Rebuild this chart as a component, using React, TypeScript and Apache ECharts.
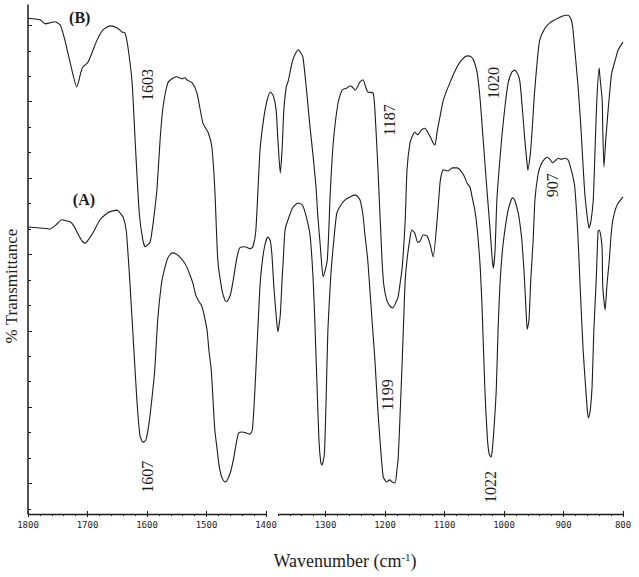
import React, { useEffect, useRef } from "react";
import * as echarts from "echarts";

// Spectrum (B) – upper trace: wavenumber (cm-1) and % transmittance
const waveB = [1800,1780,1771,1763,1755,1746,1738,1729,1718,1709,1699,1684,1674,1662,1650,1642,1637,1632,1625,1620,1613,1607,1603,1595,1592,1587,1583,1578,1573,1565,1558,1550,1541,1536,1533,1524,1516,1506,1497,1491,1486,1481,1474,1469,1466,1460,1455,1449,1444,1435,1427,1422,1417,1410,1403,1398,1393,1388,1383,1380,1376,1373,1370,1366,1363,1355,1346,1338,1326,1321,1316,1313,1309,1306,1304,1297,1292,1287,1279,1272,1264,1259,1255,1250,1242,1237,1232,1229,1220,1217,1212,1205,1202,1197,1192,1187,1182,1178,1175,1171,1166,1163,1158,1153,1150,1145,1139,1133,1128,1124,1119,1116,1112,1107,1102,1091,1079,1071,1062,1055,1050,1045,1040,1035,1029,1023,1020,1018,1015,1012,1007,1003,998,993,987,982,976,973,968,965,961,960,956,953,949,944,940,931,923,914,906,897,892,887,884,881,876,871,867,864,860,857,854,850,847,844,840,839,835,834,832,829,825,822,819,813,808,800];
const transB = [97.4,97.1,96.3,96.5,96.7,96.1,93.1,88.6,83.9,87.6,88.8,93.1,95.1,95.9,95.5,94.7,94.5,91.7,84.7,73.5,59.1,53.8,52.5,53.4,55.2,59.7,64.2,73.5,80.0,84.7,85.5,85.9,85.5,85.7,85.3,84.7,82.7,76.8,74.9,72.1,63.7,49.9,44.0,42.0,41.7,43.0,46.0,50.3,52.3,52.5,52.1,52.5,55.8,71.5,78.4,81.3,82.9,82.3,79.4,73.5,67.0,71.5,79.4,83.9,84.9,89.2,91.2,89.8,76.0,70.5,64.3,58.7,53.0,48.5,46.6,49.9,63.1,72.9,80.7,83.3,83.7,84.1,83.9,83.3,84.9,85.3,83.7,82.9,82.7,79.4,68.2,49.9,45.0,42.0,40.9,40.5,41.5,42.6,45.0,48.5,57.8,67.6,72.9,74.5,75.0,74.5,75.4,75.8,75.0,74.1,72.9,72.5,75.4,78.4,81.3,84.7,87.8,89.2,90.0,89.8,88.8,86.6,81.3,73.5,64.2,55.2,50.3,48.3,51.9,61.7,69.5,74.9,80.4,84.7,86.8,87.2,86.2,84.7,78.0,73.5,68.6,67.6,70.5,74.9,82.3,89.2,93.1,95.5,96.5,97.1,97.6,98.0,98.0,97.1,95.1,91.2,84.7,76.4,68.2,62.7,58.3,56.2,57.4,61.7,71.5,81.3,87.6,86.2,81.3,75.4,68.2,73.5,79.4,83.3,86.6,89.2,91.2,92.7];

// Spectrum (A) – lower trace
const waveA = [1800,1780,1763,1753,1743,1736,1729,1723,1716,1709,1704,1699,1691,1679,1667,1659,1650,1645,1640,1635,1632,1629,1622,1617,1612,1607,1602,1597,1592,1587,1582,1576,1571,1565,1558,1551,1545,1538,1533,1528,1523,1518,1514,1509,1506,1503,1499,1496,1492,1489,1486,1482,1479,1474,1469,1466,1460,1455,1449,1446,1440,1433,1427,1423,1420,1417,1413,1410,1407,1402,1397,1393,1390,1387,1383,1380,1376,1373,1371,1368,1363,1355,1346,1339,1333,1326,1321,1318,1314,1311,1308,1306,1302,1299,1296,1291,1286,1281,1274,1267,1259,1250,1242,1237,1234,1229,1225,1220,1217,1212,1208,1203,1197,1192,1188,1183,1180,1178,1175,1171,1168,1166,1163,1158,1155,1150,1145,1141,1136,1129,1124,1119,1112,1107,1102,1094,1087,1079,1074,1067,1062,1057,1054,1049,1045,1040,1037,1032,1028,1025,1022,1020,1017,1013,1010,1007,1003,998,993,988,985,982,976,973,970,966,963,961,958,955,951,948,943,938,932,927,923,918,913,909,904,897,892,889,884,881,876,872,867,864,860,858,855,852,849,845,842,840,837,835,834,830,827,823,820,817,812,808,800];
const transA = [56.4,56.2,56.0,56.8,57.8,57.6,57.4,56.6,55.0,53.6,53.2,53.8,55.2,57.8,59.1,59.5,59.7,59.1,58.3,55.8,51.3,46.0,32.2,22.4,15.5,14.1,14.5,17.5,22.4,28.3,38.1,45.0,47.9,50.3,51.3,51.1,50.5,49.5,48.5,47.0,45.4,43.0,42.0,41.1,40.1,38.5,36.1,32.2,28.3,22.4,16.5,12.6,9.6,7.1,6.3,6.5,8.1,10.6,14.5,15.9,16.1,15.9,15.7,16.5,21.4,28.3,38.1,45.0,48.9,52.8,54.4,53.8,50.9,45.0,39.1,35.8,39.1,46.0,49.9,55.8,57.8,60.2,61.1,60.7,58.7,54.8,46.6,38.1,24.4,14.5,10.2,9.6,11.6,22.4,36.1,47.0,53.8,59.1,60.7,61.7,62.3,62.7,61.7,58.7,55.2,49.9,43.4,35.2,30.3,20.4,13.9,7.3,6.3,6.7,6.3,6.1,8.6,10.6,18.5,30.3,40.1,46.0,49.9,54.2,55.8,55.2,53.4,53.6,54.8,54.6,52.9,50.5,58.3,65.6,67.6,67.4,68.0,68.0,67.6,66.4,65.0,64.2,62.5,59.7,56.0,48.5,41.0,24.0,15.0,11.8,11.2,12.2,16.5,24.4,36.1,44.6,51.3,56.2,59.7,61.7,62.1,61.7,59.1,56.8,53.8,47.0,40.1,36.3,38.1,46.0,53.8,61.7,66.6,68.6,69.7,70.1,69.7,69.0,69.5,69.9,69.7,69.9,69.5,68.5,66.2,64.2,55.2,44.6,32.2,26.9,20.4,18.9,20.4,24.9,36.1,46.0,55.4,55.8,54.4,51.9,44.6,40.1,45.0,49.9,54.8,57.8,60.1,61.1,62.3];

// Peak annotations (text, wavenumber, %T where the text sits)
const peakTextB = ["1603", "1187", "1020", "907"];
const peakWaveB = [1600, 1192, 1018, 918];
const peakTransB = [84.3, 77.4, 84.7, 64.6];
const peakTextA = ["1607", "1199", "1022"];
const peakWaveA = [1600, 1195, 1023];
const peakTransA = [7.3, 23.4, 5.3];
const traceNames = ["(A)", "(B)"];
const traceNameWave = [1706, 1713];
const traceNameTrans = [61.7, 97.6];

// Axis tick values (% transmittance) and x-axis segments
const yMajorTicks = [6, 21, 36, 51, 66, 81, 96];
const yMinorTicks = [1, 11, 16, 26, 31, 41, 46, 56, 61, 71, 76, 86, 91];
const xAxisSegments = [[1800, 1400], [1378, 800]];

const SERIF = "'Liberation Serif', 'DejaVu Serif', serif";
const INK = "#1c1c1c";

export default function App() {
  const ref = useRef<HTMLDivElement>(null);
  useEffect(() => {
    if (!ref.current) return;
    const chart = echarts.init(ref.current, null, { renderer: "svg" });
    const lineA = waveA.map((w, i) => [w, transA[i]]);
    const lineB = waveB.map((w, i) => [w, transB[i]]);
    const rotLabel = (texts: string[], waves: number[], ts: number[]) =>
      texts.map((t, i) => ({ name: t, coord: [waves[i], ts[i]] }));
    const markPointStyle = (data: any[]) => ({
      symbol: "circle",
      symbolSize: 1,
      itemStyle: { color: "rgba(0,0,0,0)" },
      label: {
        show: true,
        position: "inside",
        rotate: 90,
        formatter: "{b}",
        color: INK,
        fontFamily: SERIF,
        fontSize: 16,
      },
      data,
    });
    const nameLabel = (i: number) => ({
      name: traceNames[i],
      coord: [traceNameWave[i], traceNameTrans[i]],
      label: { rotate: 0, fontWeight: "bold", fontSize: 16 },
    });
    const yAxisBase = {
      type: "value",
      min: 0,
      max: 100,
      splitLine: { show: false },
      axisLabel: { show: false },
    };
    const xAxisBase = {
      type: "value",
      min: 800,
      max: 1800,
      interval: 100,
      inverse: true,
      position: "bottom",
      splitLine: { show: false },
    };
    chart.setOption({
      animation: false,
      backgroundColor: "#ffffff",
      grid: { left: 28, right: 16, top: 5, bottom: 63 },
      xAxis: [
        {
          ...xAxisBase,
          axisLine: { show: false },
          axisTick: { show: true, inside: false, length: 3, lineStyle: { color: INK } },
          minorTick: { show: true, splitNumber: 5, length: 2, lineStyle: { color: INK } },
          axisLabel: {
            show: true,
            margin: 6,
            fontSize: 9,
            fontFamily: "'DejaVu Sans Mono', monospace",
            color: INK,
            formatter: (v: number) => String(v),
          },
        },
        {
          ...xAxisBase,
          axisLine: { show: false },
          axisTick: { show: true, inside: true, length: 3, lineStyle: { color: INK } },
          minorTick: { show: false },
          axisLabel: { show: false },
        },
      ],
      yAxis: [
        {
          ...yAxisBase,
          axisLine: { show: true, lineStyle: { color: INK, width: 1.5 } },
          axisTick: {
            show: true,
            inside: true,
            length: 4,
            customValues: yMajorTicks,
            lineStyle: { color: INK },
          },
        },
        {
          ...yAxisBase,
          position: "left",
          axisLine: { show: false },
          axisTick: {
            show: true,
            inside: true,
            length: 3,
            customValues: yMinorTicks,
            lineStyle: { color: INK },
          },
        },
      ],
      graphic: [
        {
          type: "text",
          x: 11,
          y: 286,
          rotation: Math.PI / 2,
          style: {
            text: "% Transmittance",
            fill: INK,
            font: `17px ${SERIF}`,
            textAlign: "center",
            textVerticalAlign: "middle",
          },
        },
        {
          type: "text",
          x: 345,
          y: 561,
          style: {
            text: "Wavenumber (cm{sup|-1})",
            fill: INK,
            font: `18px ${SERIF}`,
            textAlign: "center",
            textVerticalAlign: "middle",
            rich: {
              sup: { fontSize: 11, fontFamily: SERIF, fill: INK, verticalAlign: "top", padding: [0, 0, 9, 0] },
            },
          },
        },
      ],
      series: [
        {
          name: "A",
          type: "line",
          data: lineA,
          showSymbol: false,
          smooth: 0.2,
          lineStyle: { color: INK, width: 1.1 },
          markPoint: markPointStyle([...rotLabel(peakTextA, peakWaveA, peakTransA), nameLabel(0)]),
        },
        {
          name: "B",
          type: "line",
          data: lineB,
          showSymbol: false,
          smooth: 0.2,
          lineStyle: { color: INK, width: 1.1 },
          markPoint: markPointStyle([...rotLabel(peakTextB, peakWaveB, peakTransB), nameLabel(1)]),
        },
        {
          name: "axis",
          type: "lines",
          coordinateSystem: "cartesian2d",
          silent: true,
          clip: false,
          lineStyle: { color: INK, width: 1.3, opacity: 1 },
          data: xAxisSegments.map((s) => ({ coords: [[s[0], 0], [s[1], 0]] })),
        },
      ],
    });
    return () => chart.dispose();
  }, []);
  return (
    <div
      ref={ref}
      style={{ position: "fixed", left: 0, top: 0, width: 639, height: 577, background: "#fff" }}
    />
  );
}
